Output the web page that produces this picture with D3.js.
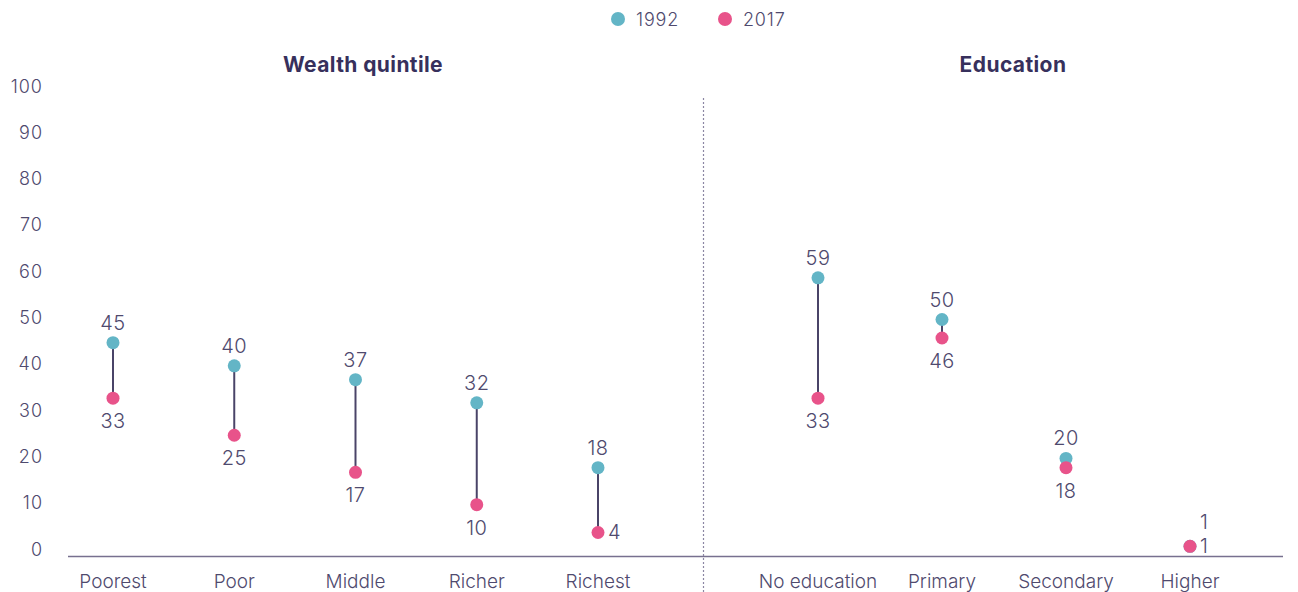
<!DOCTYPE html>
<html>
<head>
<meta charset="utf-8">
<script src="https://cdn.jsdelivr.net/npm/d3@7"></script>
<style>
  html, body { margin: 0; padding: 0; background: #fff; }
  svg { display: block; font-family: Inter, "Liberation Sans", Arial, sans-serif; }
</style>
</head>
<body>
<svg id="chart" width="1298" height="592"></svg>
<script>
// Share of women (%) — 1992 vs 2017, by wealth quintile and by education
const wealthCategories = ["Poorest", "Poor", "Middle", "Richer", "Richest"];
const wealth1992 = [45, 40, 37, 32, 18];
const wealth2017 = [33, 25, 17, 10, 4];

const educationCategories = ["No education", "Primary", "Secondary", "Higher"];
const education1992 = [59, 50, 20, 1];
const education2017 = [33, 46, 18, 1];

const yTicks = [0, 10, 20, 30, 40, 50, 60, 70, 80, 90, 100];
const seriesNames = ["1992", "2017"];

const colTeal = "#63b5c6";
const colPink = "#e8538a";
const colText = "#4f4a6e";
const colTitle = "#37305c";
const colLine = "#4a4468";

const svg = d3.select("#chart");

const y = d3.scaleLinear().domain([0, 100]).range([551, 88]);

// y-axis tick labels
svg.append("g")
  .selectAll("text")
  .data(yTicks)
  .join("text")
  .attr("x", 43)
  .attr("y", d => y(d) - 2)
  .attr("text-anchor", "end")
  .attr("dominant-baseline", "central")
  .attr("font-size", 18)
  .attr("font-weight", 300)
  .attr("letter-spacing", 1)
  .attr("fill", colText)
  .text(d => d);

// baseline
svg.append("line")
  .attr("x1", 68).attr("x2", 1283)
  .attr("y1", 556.5).attr("y2", 556.5)
  .attr("stroke", "#77708f").attr("stroke-width", 1.5);

// divider between panels
svg.append("line")
  .attr("x1", 703.5).attr("x2", 703.5)
  .attr("y1", 98).attr("y2", 592)
  .attr("stroke", "#8b86a3").attr("stroke-width", 1.2)
  .attr("stroke-dasharray", "2,2");

// legend
const legend = svg.append("g");
const legendItems = [
  { name: seriesNames[0], color: colTeal, cx: 618 },
  { name: seriesNames[1], color: colPink, cx: 725 }
];
legend.selectAll("circle")
  .data(legendItems).join("circle")
  .attr("cx", d => d.cx).attr("cy", 19).attr("r", 7)
  .attr("fill", d => d.color);
legend.selectAll("text")
  .data(legendItems).join("text")
  .attr("x", d => d.cx + 18).attr("y", 19)
  .attr("dominant-baseline", "central")
  .attr("font-size", 18)
  .attr("font-weight", 300)
  .attr("letter-spacing", 0.8)
  .attr("fill", colText)
  .text(d => d.name);

function drawPanel(title, titleX, categories, v1, v2, range, labelSide) {
  const x = d3.scalePoint().domain(categories).range(range);
  const g = svg.append("g");

  g.append("text")
    .attr("x", titleX).attr("y", 64)
    .attr("text-anchor", "middle")
    .attr("dominant-baseline", "central")
    .attr("font-size", 21).attr("font-weight", "bold")
    .attr("letter-spacing", 0.4)
    .attr("fill", colTitle)
    .text(title);

  const rows = categories.map((c, i) => ({ c, a: v1[i], b: v2[i], side: labelSide[i] }));

  // category labels
  g.selectAll("text.cat")
    .data(rows).join("text")
    .attr("class", "cat")
    .attr("x", d => x(d.c)).attr("y", 581)
    .attr("text-anchor", "middle")
    .attr("dominant-baseline", "central")
    .attr("font-size", 19)
    .attr("font-weight", 300)
    .attr("fill", colText)
    .text(d => d.c);

  // connectors
  g.selectAll("line.conn")
    .data(rows).join("line")
    .attr("class", "conn")
    .attr("x1", d => x(d.c)).attr("x2", d => x(d.c))
    .attr("y1", d => y(d.a)).attr("y2", d => y(d.b))
    .attr("stroke", colLine).attr("stroke-width", 2);

  // dots
  g.selectAll("circle.a")
    .data(rows).join("circle")
    .attr("class", "a")
    .attr("cx", d => x(d.c)).attr("cy", d => y(d.a)).attr("r", 6.5)
    .attr("fill", colTeal);
  g.selectAll("circle.b")
    .data(rows).join("circle")
    .attr("class", "b")
    .attr("cx", d => x(d.c)).attr("cy", d => y(d.b)).attr("r", 6.5)
    .attr("fill", colPink);

  // value labels
  g.selectAll("text.va")
    .data(rows).join("text")
    .attr("class", "va")
    .attr("x", d => d.side === "right" ? x(d.c) + 10 : x(d.c))
    .attr("y", d => d.side === "right" ? y(d.a) - 24 : y(d.a) - 20)
    .attr("text-anchor", d => d.side === "right" ? "start" : "middle")
    .attr("dominant-baseline", "central")
    .attr("font-size", 20)
    .attr("font-weight", 300)
    .attr("letter-spacing", 0.5)
    .attr("fill", colText)
    .text(d => d.a);
  g.selectAll("text.vb")
    .data(rows).join("text")
    .attr("class", "vb")
    .attr("x", d => d.side !== "below" ? x(d.c) + 10 : x(d.c))
    .attr("y", d => d.side !== "below" ? y(d.b) : y(d.b) + 23)
    .attr("text-anchor", d => d.side !== "below" ? "start" : "middle")
    .attr("dominant-baseline", "central")
    .attr("font-size", 20)
    .attr("font-weight", 300)
    .attr("letter-spacing", 0.5)
    .attr("fill", colText)
    .text(d => d.b);
}

drawPanel("Wealth quintile", 363, wealthCategories, wealth1992, wealth2017,
  [113, 598], ["below", "below", "below", "below", "side"]);
drawPanel("Education", 1013, educationCategories, education1992, education2017,
  [818, 1190], ["below", "below", "below", "right"]);
</script>
</body>
</html>
